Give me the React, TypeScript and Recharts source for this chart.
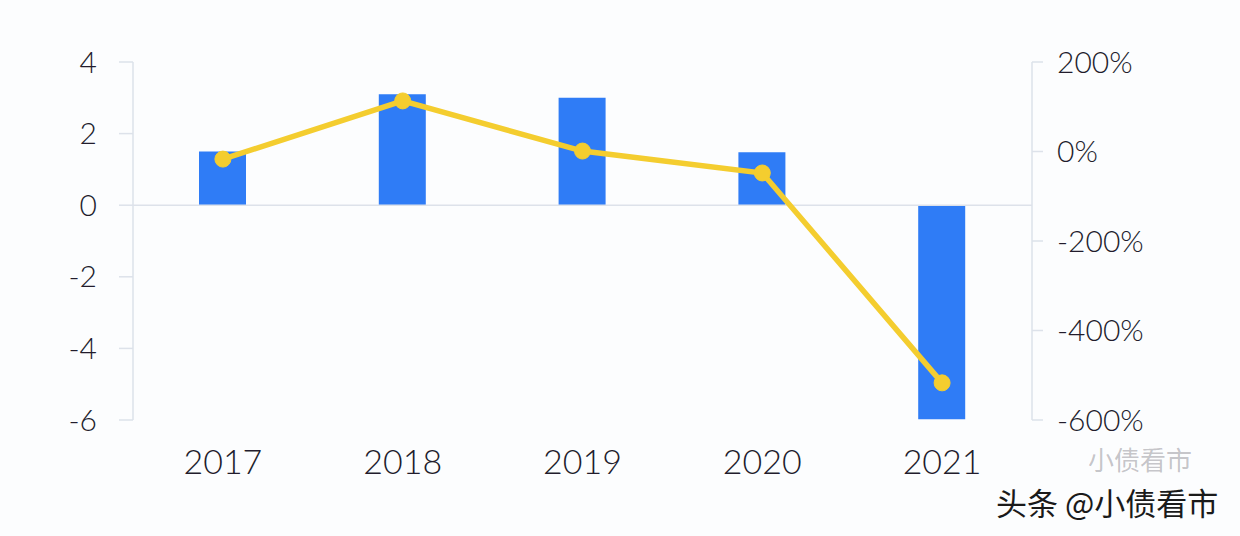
import React from 'react';
import { ComposedChart, Bar, Line, XAxis, YAxis, ReferenceLine } from 'recharts';

const years = ['2017', '2018', '2019', '2020', '2021'];
const barValues = [1.5, 3.1, 3.0, 1.48, -5.98];
const lineValues = [-17, 113, 1, -48, -517];
const leftTicks = [-6, -4, -2, 0, 2, 4];
const rightTicks = [-600, -400, -200, 0, 200];

const data = years.map((y, i) => ({ year: y, bar: barValues[i], pct: lineValues[i] }));

const FONT = 'Lato, "Noto Sans", sans-serif';
const TEXT = '#221c2c';
const AXIS = '#dde2ea';

export default function App() {
  return (
    <div style={{ position: 'absolute', left: 0, top: 0, width: 1240, height: 536, background: '#fcfdfe', fontFamily: FONT }}>
      <ComposedChart width={1240} height={536} data={data} margin={{ top: 62, right: 0, bottom: 56, left: 0 }}>
        <XAxis
          dataKey="year"
          axisLine={false}
          tickLine={false}
          height={60}
          tickMargin={24}
          tick={{ fill: TEXT, fontSize: 34, fontFamily: FONT, fontWeight: 300 }}
        />
        <YAxis
          yAxisId="left"
          orientation="left"
          width={133}
          domain={[-6, 4]}
          ticks={leftTicks}
          interval={0}
          axisLine={{ stroke: AXIS, strokeWidth: 1.5 }}
          tickLine={{ stroke: AXIS, strokeWidth: 1.5 }}
          tickSize={14}
          tickMargin={22}
          tick={{ fill: TEXT, fontSize: 30, fontFamily: FONT, fontWeight: 300 }}
        />
        <YAxis
          yAxisId="right"
          orientation="right"
          width={208}
          domain={[-600, 200]}
          ticks={rightTicks}
          interval={0}
          axisLine={{ stroke: AXIS, strokeWidth: 1.5 }}
          tickLine={{ stroke: AXIS, strokeWidth: 1.5 }}
          tickSize={11}
          tickMargin={14}
          tickFormatter={(v: number) => `${v}%`}
          tick={{ fill: TEXT, fontSize: 30, fontFamily: FONT, fontWeight: 300 }}
        />
        <ReferenceLine yAxisId="left" y={0} stroke={AXIS} strokeWidth={1.5} />
        <Bar yAxisId="left" dataKey="bar" fill="#2f7cf6" barSize={47} isAnimationActive={false} />
        <Line
          yAxisId="right"
          dataKey="pct"
          stroke="#f4cd2f"
          strokeWidth={5.5}
          dot={{ r: 8, fill: '#f4cd2f', stroke: '#f4cd2f', strokeWidth: 1 }}
          activeDot={false}
          isAnimationActive={false}
        />
      </ComposedChart>
      <div style={{ position: 'absolute', left: 1088, top: 446, fontSize: 26, height: 26, color: 'rgba(60,60,70,0.3)', fontFamily: '"Noto Sans CJK SC", sans-serif', lineHeight: '26px' }}>
        小债看市
      </div>
      <div style={{ position: 'absolute', left: 996, top: 486, fontSize: 31, color: '#1a1a1a', fontFamily: '"Noto Sans CJK SC", sans-serif', lineHeight: 1, whiteSpace: 'nowrap' }}>
        头条 @小债看市
      </div>
    </div>
  );
}
